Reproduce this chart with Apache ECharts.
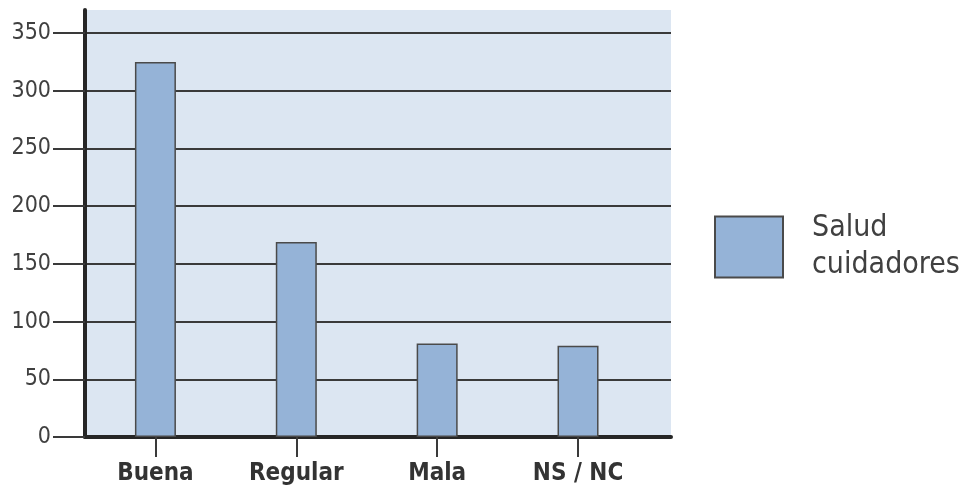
<!DOCTYPE html>
<html lang="es">
<head>
<meta charset="UTF-8">
<title>Salud cuidadores</title>
<style>
  html, body { margin: 0; padding: 0; background: #fff; }
  #chart { width: 971px; height: 493px; }
</style>
</head>
<body>
<div id="chart"></div>
<script src="https://cdn.jsdelivr.net/npm/echarts@6/dist/echarts.min.js"></script>
<script>
// data
var categories = ['Buena', 'Regular', 'Mala', 'NS / NC'];
var saludCuidadores = [325, 169, 81, 79];
var yTicks = [0, 50, 100, 150, 200, 250, 300, 350];
var seriesName = 'Salud\ncuidadores';

var catIndex = categories.map(function (c, i) { return i; });
var barData = saludCuidadores.map(function (v, i) { return [i, v]; });

var fontCond = "'DejaVu Sans Condensed', 'Liberation Sans', sans-serif";

var chart = echarts.init(document.getElementById('chart'));
chart.setOption({
  animation: false,
  backgroundColor: '#ffffff',
  legend: {
    left: 709,
    top: 205,
    orient: 'vertical',
    icon: 'rect',
    itemWidth: 68,
    itemHeight: 61,
    itemGap: 10,
    textStyle: {
      fontFamily: fontCond,
      fontSize: 30,
      color: '#404040',
      lineHeight: 37,
      padding: [0, 0, 0, 24]
    },
    data: [seriesName]
  },
  grid: {
    left: 85,
    right: 300,
    top: 10,
    bottom: 56,
    show: true,
    backgroundColor: '#dce6f2',
    borderWidth: 0
  },
  xAxis: {
    type: 'value',
    min: -0.5,
    max: 3.66,
    splitLine: { show: false },
    axisLine: { show: true, onZero: false, lineStyle: { color: '#262626', width: 4 } },
    axisTick: {
      show: true,
      customValues: catIndex,
      length: 20,
      lineStyle: { color: '#3a3a3a', width: 2 }
    },
    axisLabel: {
      customValues: catIndex,
      margin: 25,
      fontFamily: fontCond,
      fontWeight: 'bold',
      fontSize: 24,
      color: '#333333',
      formatter: function (v) { return categories[Math.round(v)]; }
    }
  },
  yAxis: {
    type: 'value',
    min: 0,
    max: 370,
    interval: 50,
    axisLine: { show: true, onZero: false, lineStyle: { color: '#262626', width: 4 } },
    axisTick: {
      show: true,
      customValues: yTicks,
      length: 32,
      lineStyle: { color: '#3a3a3a', width: 2 }
    },
    axisLabel: {
      customValues: yTicks,
      margin: 34,
      fontFamily: fontCond,
      fontSize: 23,
      color: '#404040'
    },
    splitLine: {
      show: true,
      lineStyle: { color: '#3a3a3a', width: 2 }
    }
  },
  series: [{
    name: seriesName,
    type: 'bar',
    barWidth: 41,
    data: barData,
    itemStyle: {
      color: '#95b3d7',
      borderColor: '#4a4a4a',
      borderWidth: 1.5
    }
  }]
});
</script>
</body>
</html>
